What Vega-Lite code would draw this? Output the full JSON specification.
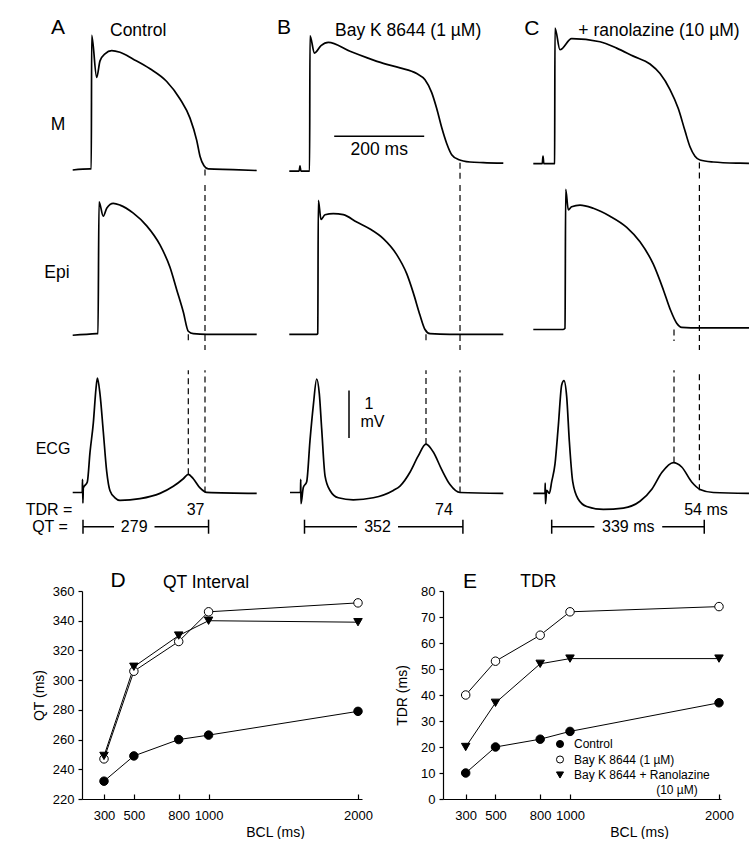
{
"$schema":"https://vega.github.io/schema/vega-lite/v6.json",
"background":"white",
"padding":0,
"spacing":30,
"config":{"view":{"stroke":null},"font":"Liberation Sans","text":{"color":"black"},
"axis":{"domainColor":"black","tickColor":"black","labelColor":"black","titleColor":"black","labelFontSize":13,"titleFontSize":14,"titleFontWeight":"normal","grid":false,"domainWidth":1.2,"tickWidth":1.2,"labelOverlap":false}},
"datasets":{
"tr":[
{"p":"A","s":"M","t":-22.9,"v":-85.4},{"p":"A","s":"M","t":15.6,"v":-84.4},{"p":"A","s":"M","t":18.4,"v":-84.4},{"p":"A","s":"M","t":19.3,"v":45.5},{"p":"A","s":"M","t":30.4,"v":4.7},{"p":"A","s":"M","t":37.8,"v":20.8},{"p":"A","s":"M","t":48.9,"v":27.6},{"p":"A","s":"M","t":63.8,"v":30.7},{"p":"A","s":"M","t":82.2,"v":29.1},{"p":"A","s":"M","t":111.8,"v":22.4},{"p":"A","s":"M","t":148.9,"v":13.1},{"p":"A","s":"M","t":186,"v":0.7},{"p":"A","s":"M","t":215.6,"v":-16.3},{"p":"A","s":"M","t":237.8,"v":-34.9},{"p":"A","s":"M","t":252.7,"v":-56.6},{"p":"A","s":"M","t":260,"v":-72},{"p":"A","s":"M","t":268.9,"v":-81.3},{"p":"A","s":"M","t":278.4,"v":-84.4},{"p":"A","s":"M","t":333.3,"v":-85},{"p":"A","s":"M","t":386,"v":-85.9},
{"p":"A","s":"Epi","t":-22.9,"v":-85.7},{"p":"A","s":"Epi","t":30.4,"v":-84.2},{"p":"A","s":"Epi","t":33.3,"v":-84.1},{"p":"A","s":"Epi","t":35.6,"v":43.6},{"p":"A","s":"Epi","t":45.1,"v":29.7},{"p":"A","s":"Epi","t":52.7,"v":37.4},{"p":"A","s":"Epi","t":67.3,"v":42.1},{"p":"A","s":"Epi","t":82.2,"v":40.5},{"p":"A","s":"Epi","t":111.8,"v":32.7},{"p":"A","s":"Epi","t":141.6,"v":20.4},{"p":"A","s":"Epi","t":171.1,"v":1.9},{"p":"A","s":"Epi","t":193.3,"v":-19.8},{"p":"A","s":"Epi","t":208.2,"v":-41.5},{"p":"A","s":"Epi","t":222.9,"v":-63.1},{"p":"A","s":"Epi","t":234,"v":-81.8},{"p":"A","s":"Epi","t":245.1,"v":-84.2},{"p":"A","s":"Epi","t":274.9,"v":-84.8},{"p":"A","s":"Epi","t":386,"v":-84.8},
{"p":"A","s":"ECG","t":-22.9,"v":0},{"p":"A","s":"ECG","t":-1.6,"v":0},{"p":"A","s":"ECG","t":-1.1,"v":0.278},{"p":"A","s":"ECG","t":-0.2,"v":-0.222},{"p":"A","s":"ECG","t":0.7,"v":0.093},{"p":"A","s":"ECG","t":9.6,"v":0.222},{"p":"A","s":"ECG","t":15.6,"v":0.85},{"p":"A","s":"ECG","t":22.9,"v":1.46},{"p":"A","s":"ECG","t":29,"v":2.2},{"p":"A","s":"ECG","t":32,"v":2.41},{"p":"A","s":"ECG","t":37.8,"v":2.07},{"p":"A","s":"ECG","t":45.1,"v":1.28},{"p":"A","s":"ECG","t":52.7,"v":0.44},{"p":"A","s":"ECG","t":60,"v":0.037},{"p":"A","s":"ECG","t":71.1,"v":-0.111},{"p":"A","s":"ECG","t":82.2,"v":-0.167},{"p":"A","s":"ECG","t":126.7,"v":-0.13},{"p":"A","s":"ECG","t":171.1,"v":-0.019},{"p":"A","s":"ECG","t":200.7,"v":0.13},{"p":"A","s":"ECG","t":222.9,"v":0.289},{"p":"A","s":"ECG","t":234,"v":0.383},{"p":"A","s":"ECG","t":245.1,"v":0.289},{"p":"A","s":"ECG","t":260,"v":0.096},{"p":"A","s":"ECG","t":274.9,"v":0.002},{"p":"A","s":"ECG","t":386,"v":-0.019},
{"p":"B","s":"M","t":-33.8,"v":-86.5},{"p":"B","s":"M","t":-12,"v":-86.5},{"p":"B","s":"M","t":-10,"v":-81.4},{"p":"B","s":"M","t":-8,"v":-86.5},{"p":"B","s":"M","t":8.4,"v":-86.5},{"p":"B","s":"M","t":11.3,"v":-86.5},{"p":"B","s":"M","t":12.2,"v":45},{"p":"B","s":"M","t":22.2,"v":28.4},{"p":"B","s":"M","t":36.7,"v":35.6},{"p":"B","s":"M","t":52.9,"v":38.8},{"p":"B","s":"M","t":101.1,"v":30.1},{"p":"B","s":"M","t":138.2,"v":23.9},{"p":"B","s":"M","t":175.1,"v":18.3},{"p":"B","s":"M","t":212.2,"v":14},{"p":"B","s":"M","t":249.3,"v":8.4},{"p":"B","s":"M","t":267.8,"v":2.3},{"p":"B","s":"M","t":282.7,"v":-10.1},{"p":"B","s":"M","t":293.8,"v":-25.6},{"p":"B","s":"M","t":304.9,"v":-44.1},{"p":"B","s":"M","t":316,"v":-59.6},{"p":"B","s":"M","t":327.1,"v":-70.5},{"p":"B","s":"M","t":341.8,"v":-75.1},{"p":"B","s":"M","t":367.8,"v":-77.6},{"p":"B","s":"M","t":397.3,"v":-78.25},{"p":"B","s":"M","t":441.8,"v":-78.8},
{"p":"B","s":"Epi","t":-33.8,"v":-84.8},{"p":"B","s":"Epi","t":27.1,"v":-84.8},{"p":"B","s":"Epi","t":29.5,"v":-84},{"p":"B","s":"Epi","t":30.7,"v":45.1},{"p":"B","s":"Epi","t":36.7,"v":26.6},{"p":"B","s":"Epi","t":45.6,"v":31.2},{"p":"B","s":"Epi","t":64,"v":32.2},{"p":"B","s":"Epi","t":86.2,"v":31.2},{"p":"B","s":"Epi","t":116,"v":24.1},{"p":"B","s":"Epi","t":145.6,"v":17.3},{"p":"B","s":"Epi","t":175.1,"v":8},{"p":"B","s":"Epi","t":204.9,"v":-7.5},{"p":"B","s":"Epi","t":227.1,"v":-26},{"p":"B","s":"Epi","t":241.8,"v":-44.6},{"p":"B","s":"Epi","t":256.7,"v":-66.3},{"p":"B","s":"Epi","t":267.8,"v":-80.1},{"p":"B","s":"Epi","t":278.9,"v":-84.2},{"p":"B","s":"Epi","t":323.3,"v":-84.8},{"p":"B","s":"Epi","t":441.8,"v":-84.8},
{"p":"B","s":"ECG","t":-32.2,"v":0},{"p":"B","s":"ECG","t":-8.9,"v":0},{"p":"B","s":"ECG","t":-8.4,"v":0.278},{"p":"B","s":"ECG","t":-7.8,"v":-0.235},{"p":"B","s":"ECG","t":-2.7,"v":0.106},{"p":"B","s":"ECG","t":4.9,"v":0.228},{"p":"B","s":"ECG","t":12.2,"v":1.093},{"p":"B","s":"ECG","t":19.6,"v":1.833},{"p":"B","s":"ECG","t":27.1,"v":2.389},{"p":"B","s":"ECG","t":32.9,"v":2.08},{"p":"B","s":"ECG","t":38.2,"v":1.339},{"p":"B","s":"ECG","t":45.6,"v":0.352},{"p":"B","s":"ECG","t":56.7,"v":0.043},{"p":"B","s":"ECG","t":75.1,"v":-0.111},{"p":"B","s":"ECG","t":108.4,"v":-0.154},{"p":"B","s":"ECG","t":152.9,"v":-0.111},{"p":"B","s":"ECG","t":197.3,"v":0.043},{"p":"B","s":"ECG","t":212.2,"v":0.135},{"p":"B","s":"ECG","t":234.4,"v":0.426},{"p":"B","s":"ECG","t":252.2,"v":0.759},{"p":"B","s":"ECG","t":270,"v":1.019},{"p":"B","s":"ECG","t":286.2,"v":0.852},{"p":"B","s":"ECG","t":304.9,"v":0.481},{"p":"B","s":"ECG","t":323.3,"v":0.167},{"p":"B","s":"ECG","t":345.6,"v":0},{"p":"B","s":"ECG","t":441.8,"v":-0.019},
{"p":"C","s":"M","t":-40.9,"v":-79.2},{"p":"C","s":"M","t":-21,"v":-79.2},{"p":"C","s":"M","t":-19.3,"v":-72},{"p":"C","s":"M","t":-17.5,"v":-79.2},{"p":"C","s":"M","t":5.1,"v":-79.2},{"p":"C","s":"M","t":6.5,"v":-79},{"p":"C","s":"M","t":7.3,"v":52.7},{"p":"C","s":"M","t":18.4,"v":31.6},{"p":"C","s":"M","t":44.4,"v":42.4},{"p":"C","s":"M","t":107.3,"v":39.4},{"p":"C","s":"M","t":144.4,"v":33.2},{"p":"C","s":"M","t":181.3,"v":25.4},{"p":"C","s":"M","t":218.4,"v":17.7},{"p":"C","s":"M","t":240.7,"v":8.4},{"p":"C","s":"M","t":262.9,"v":-7.1},{"p":"C","s":"M","t":281.3,"v":-25.6},{"p":"C","s":"M","t":296.2,"v":-47.3},{"p":"C","s":"M","t":307.3,"v":-62.8},{"p":"C","s":"M","t":318.4,"v":-72},{"p":"C","s":"M","t":329.6,"v":-75.7},{"p":"C","s":"M","t":359.1,"v":-77.6},{"p":"C","s":"M","t":418.4,"v":-78.8},{"p":"C","s":"M","t":438.4,"v":-79},
{"p":"C","s":"Epi","t":-40.9,"v":-80.1},{"p":"C","s":"Epi","t":25.8,"v":-80.1},{"p":"C","s":"Epi","t":29.6,"v":-79},{"p":"C","s":"Epi","t":31.1,"v":55.9},{"p":"C","s":"Epi","t":36.9,"v":35.9},{"p":"C","s":"Epi","t":44.4,"v":38.9},{"p":"C","s":"Epi","t":62.9,"v":40.5},{"p":"C","s":"Epi","t":92.4,"v":37.4},{"p":"C","s":"Epi","t":129.6,"v":29.7},{"p":"C","s":"Epi","t":166.7,"v":18.9},{"p":"C","s":"Epi","t":196.2,"v":4.9},{"p":"C","s":"Epi","t":225.8,"v":-16.8},{"p":"C","s":"Epi","t":248,"v":-41.5},{"p":"C","s":"Epi","t":262.9,"v":-60.1},{"p":"C","s":"Epi","t":277.8,"v":-74},{"p":"C","s":"Epi","t":288.9,"v":-78},{"p":"C","s":"Epi","t":329.6,"v":-78.6},{"p":"C","s":"Epi","t":438.4,"v":-78.6},
{"p":"C","s":"ECG","t":-40.9,"v":-0.019},{"p":"C","s":"ECG","t":-14.9,"v":-0.019},{"p":"C","s":"ECG","t":-14.4,"v":0.198},{"p":"C","s":"ECG","t":-13.8,"v":-0.235},{"p":"C","s":"ECG","t":-11.1,"v":0.043},{"p":"C","s":"ECG","t":-5.3,"v":-0.019},{"p":"C","s":"ECG","t":0,"v":0.228},{"p":"C","s":"ECG","t":7.3,"v":0.598},{"p":"C","s":"ECG","t":14.7,"v":1.402},{"p":"C","s":"ECG","t":22.2,"v":2.265},{"p":"C","s":"ECG","t":27.3,"v":2.357},{"p":"C","s":"ECG","t":33.3,"v":2.019},{"p":"C","s":"ECG","t":39.1,"v":1.093},{"p":"C","s":"ECG","t":46.7,"v":0.228},{"p":"C","s":"ECG","t":59.1,"v":-0.143},{"p":"C","s":"ECG","t":77.8,"v":-0.296},{"p":"C","s":"ECG","t":114.7,"v":-0.357},{"p":"C","s":"ECG","t":159.1,"v":-0.328},{"p":"C","s":"ECG","t":196.2,"v":-0.185},{"p":"C","s":"ECG","t":222.9,"v":0.074},{"p":"C","s":"ECG","t":245.1,"v":0.426},{"p":"C","s":"ECG","t":270.2,"v":0.63},{"p":"C","s":"ECG","t":288.9,"v":0.537},{"p":"C","s":"ECG","t":311.1,"v":0.222},{"p":"C","s":"ECG","t":329.6,"v":0.065},{"p":"C","s":"ECG","t":359.1,"v":0},{"p":"C","s":"ECG","t":438.4,"v":-0.019}
],
"dash":[
{"p":"A","e":"M","t":271.1,"vM":-85,"vECG":0},
{"p":"A","e":"Epi","t":234,"vEpi":-84.8,"vECG":0.383},
{"p":"B","e":"M","t":345.6,"vM":-78.3,"vECG":0},
{"p":"B","e":"Epi","t":270,"vEpi":-84.8,"vECG":1.019},
{"p":"C","e":"M","t":328.2,"vM":-78,"vECG":0.05},
{"p":"C","e":"Epi","t":271.8,"vEpi":-80,"vECG":0.63}
],
"txt":[
{"p":"A","s":"M","k":"letter","t":-55.6,"v":52.7,"label":"A"},
{"p":"A","s":"M","k":"title","t":60,"v":50,"label":"Control"},
{"p":"A","s":"M","k":"lab","t":-55.6,"v":-41.8,"label":"M"},
{"p":"B","s":"M","k":"letter","t":-45.6,"v":53,"label":"B"},
{"p":"B","s":"M","k":"title","t":67.8,"v":50,"label":"Bay K 8644 (1 µM)"},
{"p":"B","s":"M","k":"lab","t":166,"v":-66.1,"label":"200 ms"},
{"p":"C","s":"M","k":"letter","t":-44.4,"v":51.5,"label":"C"},
{"p":"C","s":"M","k":"title","t":59.1,"v":50,"label":"+ ranolazine (10 µM)"},
{"p":"A","s":"Epi","k":"lab","t":-57.8,"v":-25.6,"label":"Epi"},
{"p":"A","s":"ECG","k":"lab","t":-66.7,"v":0.907,"label":"ECG"},
{"p":"A","s":"ECG","k":"lab","t":-75.6,"v":-0.37,"label":"TDR ="},
{"p":"A","s":"ECG","k":"lab","t":-73.3,"v":-0.72,"label":"QT ="},
{"p":"A","s":"ECG","k":"lab","t":250.2,"v":-0.37,"label":"37"},
{"p":"A","s":"ECG","k":"lab","t":113.8,"v":-0.72,"label":"279"},
{"p":"B","s":"ECG","k":"lab","t":310,"v":-0.37,"label":"74"},
{"p":"B","s":"ECG","k":"lab","t":162.2,"v":-0.72,"label":"352"},
{"p":"B","s":"ECG","k":"lab","t":143.3,"v":1.865,"label":"1"},
{"p":"B","s":"ECG","k":"lab","t":151,"v":1.494,"label":"mV"},
{"p":"C","s":"ECG","k":"lab","t":342.9,"v":-0.37,"label":"54 ms"},
{"p":"C","s":"ECG","k":"lab","t":170.2,"v":-0.72,"label":"339 ms"}
],
"seg":[
{"p":"B","s":"M","t":66,"t2":266,"v":-52.6,"v2":-52.6},
{"p":"A","s":"ECG","t":0,"t2":69,"v":-0.72,"v2":-0.72},
{"p":"A","s":"ECG","t":158.9,"t2":279,"v":-0.72,"v2":-0.72},
{"p":"A","s":"ECG","t":0,"t2":0,"v":-0.572,"v2":-0.868},
{"p":"A","s":"ECG","t":279,"t2":279,"v":-0.572,"v2":-0.868},
{"p":"B","s":"ECG","t":0,"t2":116.7,"v":-0.72,"v2":-0.72},
{"p":"B","s":"ECG","t":207.8,"t2":352,"v":-0.72,"v2":-0.72},
{"p":"B","s":"ECG","t":0,"t2":0,"v":-0.572,"v2":-0.868},
{"p":"B","s":"ECG","t":352,"t2":352,"v":-0.572,"v2":-0.868},
{"p":"B","s":"ECG","t":98.9,"t2":98.9,"v":1.15,"v2":2.15},
{"p":"C","s":"ECG","t":0,"t2":94.9,"v":-0.72,"v2":-0.72},
{"p":"C","s":"ECG","t":245.6,"t2":339,"v":-0.72,"v2":-0.72},
{"p":"C","s":"ECG","t":0,"t2":0,"v":-0.572,"v2":-0.868},
{"p":"C","s":"ECG","t":339,"t2":339,"v":-0.572,"v2":-0.868}
],
"bcl":[
{"panel":"D","series":"Control","bcl":300,"value":232},{"panel":"D","series":"Control","bcl":500,"value":249},{"panel":"D","series":"Control","bcl":800,"value":260},{"panel":"D","series":"Control","bcl":1000,"value":263},{"panel":"D","series":"Control","bcl":2000,"value":279},
{"panel":"D","series":"Bay K 8644 (1 µM)","bcl":300,"value":247},{"panel":"D","series":"Bay K 8644 (1 µM)","bcl":500,"value":306},{"panel":"D","series":"Bay K 8644 (1 µM)","bcl":800,"value":326},{"panel":"D","series":"Bay K 8644 (1 µM)","bcl":1000,"value":346},{"panel":"D","series":"Bay K 8644 (1 µM)","bcl":2000,"value":352},
{"panel":"D","series":"Bay K 8644 + Ranolazine","bcl":300,"value":249},{"panel":"D","series":"Bay K 8644 + Ranolazine","bcl":500,"value":309},{"panel":"D","series":"Bay K 8644 + Ranolazine","bcl":800,"value":330},{"panel":"D","series":"Bay K 8644 + Ranolazine","bcl":1000,"value":340},{"panel":"D","series":"Bay K 8644 + Ranolazine","bcl":2000,"value":339},
{"panel":"E","series":"Control","bcl":300,"value":10},{"panel":"E","series":"Control","bcl":500,"value":20},{"panel":"E","series":"Control","bcl":800,"value":23},{"panel":"E","series":"Control","bcl":1000,"value":26},{"panel":"E","series":"Control","bcl":2000,"value":37},
{"panel":"E","series":"Bay K 8644 (1 µM)","bcl":300,"value":40},{"panel":"E","series":"Bay K 8644 (1 µM)","bcl":500,"value":53},{"panel":"E","series":"Bay K 8644 (1 µM)","bcl":800,"value":63},{"panel":"E","series":"Bay K 8644 (1 µM)","bcl":1000,"value":72},{"panel":"E","series":"Bay K 8644 (1 µM)","bcl":2000,"value":74},
{"panel":"E","series":"Bay K 8644 + Ranolazine","bcl":300,"value":20},{"panel":"E","series":"Bay K 8644 + Ranolazine","bcl":500,"value":37},{"panel":"E","series":"Bay K 8644 + Ranolazine","bcl":800,"value":52},{"panel":"E","series":"Bay K 8644 + Ranolazine","bcl":1000,"value":54},{"panel":"E","series":"Bay K 8644 + Ranolazine","bcl":2000,"value":54}
],
"ptxt":[
{"panel":"D","k":"letter","bcl":393.8,"value":366.4,"label":"D"},
{"panel":"D","k":"title","bcl":982.8,"value":365.6,"label":"QT Interval"},
{"panel":"E","k":"letter","bcl":328.9,"value":83.6,"label":"E"},
{"panel":"E","k":"title","bcl":787.3,"value":83.6,"label":"TDR"},
{"panel":"E","k":"note","bcl":1718,"value":3.46,"label":"(10 µM)"}
]
},
"vconcat":[
{"concat":[
{"width":265,"height":185,
"encoding":{"x":{"field":"t","type":"quantitative","scale":{"domain":[-184.44,404.44]},"axis":null}},
"layer":[
{"data":{"name":"tr"},"transform":[{"filter":"datum.p=='A'&&datum.s=='M'"}],"mark":{"type":"line","color":"black","strokeWidth":1.7,"interpolate":"monotone"},"encoding":{"y":{"field":"v","type":"quantitative","scale":{"domain":[-94,72.5]},"axis":null}}},
{"data":{"name":"dash"},"transform":[{"filter":"datum.p=='A'&&datum.e=='M'"}],"mark":{"type":"rule","color":"black","strokeWidth":1.2,"strokeDash":[6,4]},"encoding":{"y":{"field":"vM","type":"quantitative","axis":null},"y2":{"datum":-94}}},
{"data":{"name":"txt"},"transform":[{"filter":"datum.p=='A'&&datum.s=='M'&&datum.k=='letter'"}],"mark":{"type":"text","fontSize":21,"align":"center","baseline":"middle"},"encoding":{"y":{"field":"v","type":"quantitative","axis":null},"text":{"field":"label"}}},
{"data":{"name":"txt"},"transform":[{"filter":"datum.p=='A'&&datum.s=='M'&&datum.k=='title'"}],"mark":{"type":"text","fontSize":17.5,"align":"left","baseline":"middle"},"encoding":{"y":{"field":"v","type":"quantitative","axis":null},"text":{"field":"label"}}},
{"data":{"name":"txt"},"transform":[{"filter":"datum.p=='A'&&datum.s=='M'&&datum.k=='lab'"}],"mark":{"type":"text","fontSize":17.5,"align":"center","baseline":"middle"},"encoding":{"y":{"field":"v","type":"quantitative","axis":null},"text":{"field":"label"}}}
]},
{"width":247,"height":185,
"encoding":{"x":{"field":"t","type":"quantitative","scale":{"domain":[-87.78,461.11]},"axis":null}},
"layer":[
{"data":{"name":"tr"},"transform":[{"filter":"datum.p=='B'&&datum.s=='M'"}],"mark":{"type":"line","color":"black","strokeWidth":1.7,"interpolate":"monotone"},"encoding":{"y":{"field":"v","type":"quantitative","scale":{"domain":[-94,72.5]},"axis":null}}},
{"data":{"name":"dash"},"transform":[{"filter":"datum.p=='B'&&datum.e=='M'"}],"mark":{"type":"rule","color":"black","strokeWidth":1.2,"strokeDash":[6,4]},"encoding":{"y":{"field":"vM","type":"quantitative","axis":null},"y2":{"datum":-94}}},
{"data":{"name":"seg"},"transform":[{"filter":"datum.p=='B'&&datum.s=='M'"}],"mark":{"type":"rule","color":"black","strokeWidth":1.5},"encoding":{"x2":{"field":"t2"},"y":{"field":"v","type":"quantitative","axis":null},"y2":{"field":"v2"}}},
{"data":{"name":"txt"},"transform":[{"filter":"datum.p=='B'&&datum.s=='M'&&datum.k=='letter'"}],"mark":{"type":"text","fontSize":21,"align":"center","baseline":"middle"},"encoding":{"y":{"field":"v","type":"quantitative","axis":null},"text":{"field":"label"}}},
{"data":{"name":"txt"},"transform":[{"filter":"datum.p=='B'&&datum.s=='M'&&datum.k=='title'"}],"mark":{"type":"text","fontSize":17.5,"align":"left","baseline":"middle"},"encoding":{"y":{"field":"v","type":"quantitative","axis":null},"text":{"field":"label"}}},
{"data":{"name":"txt"},"transform":[{"filter":"datum.p=='B'&&datum.s=='M'&&datum.k=='lab'"}],"mark":{"type":"text","fontSize":17.5,"align":"center","baseline":"middle"},"encoding":{"y":{"field":"v","type":"quantitative","axis":null},"text":{"field":"label"}}}
]},
{"width":238,"height":185,
"encoding":{"x":{"field":"t","type":"quantitative","scale":{"domain":[-88.22,440.67]},"axis":null}},
"layer":[
{"data":{"name":"tr"},"transform":[{"filter":"datum.p=='C'&&datum.s=='M'"}],"mark":{"type":"line","color":"black","strokeWidth":1.7,"interpolate":"monotone"},"encoding":{"y":{"field":"v","type":"quantitative","scale":{"domain":[-94,72.5]},"axis":null}}},
{"data":{"name":"dash"},"transform":[{"filter":"datum.p=='C'&&datum.e=='M'"}],"mark":{"type":"rule","color":"black","strokeWidth":1.2,"strokeDash":[6,4]},"encoding":{"y":{"field":"vM","type":"quantitative","axis":null},"y2":{"datum":-94}}},
{"data":{"name":"txt"},"transform":[{"filter":"datum.p=='C'&&datum.s=='M'&&datum.k=='letter'"}],"mark":{"type":"text","fontSize":21,"align":"center","baseline":"middle"},"encoding":{"y":{"field":"v","type":"quantitative","axis":null},"text":{"field":"label"}}},
{"data":{"name":"txt"},"transform":[{"filter":"datum.p=='C'&&datum.s=='M'&&datum.k=='title'"}],"mark":{"type":"text","fontSize":17.5,"align":"left","baseline":"middle"},"encoding":{"y":{"field":"v","type":"quantitative","axis":null},"text":{"field":"label"}}}
]},
{"width":265,"height":165,
"encoding":{"x":{"field":"t","type":"quantitative","scale":{"domain":[-184.44,404.44]},"axis":null}},
"layer":[
{"data":{"name":"tr"},"transform":[{"filter":"datum.p=='A'&&datum.s=='Epi'"}],"mark":{"type":"line","color":"black","strokeWidth":1.7,"interpolate":"monotone"},"encoding":{"y":{"field":"v","type":"quantitative","scale":{"domain":[-91.3,57.2]},"axis":null}}},
{"data":{"name":"dash"},"transform":[{"filter":"datum.p=='A'&&datum.e=='M'"}],"mark":{"type":"rule","color":"black","strokeWidth":1.2,"strokeDash":[6,4]}},
{"data":{"name":"dash"},"transform":[{"filter":"datum.p=='A'&&datum.e=='Epi'"}],"mark":{"type":"rule","color":"black","strokeWidth":1.2,"strokeDash":[6,4]},"encoding":{"y":{"field":"vEpi","type":"quantitative","axis":null},"y2":{"datum":-91.3}}},
{"data":{"name":"txt"},"transform":[{"filter":"datum.p=='A'&&datum.s=='Epi'"}],"mark":{"type":"text","fontSize":17.5,"align":"center","baseline":"middle"},"encoding":{"y":{"field":"v","type":"quantitative","axis":null},"text":{"field":"label"}}}
]},
{"width":247,"height":165,
"encoding":{"x":{"field":"t","type":"quantitative","scale":{"domain":[-87.78,461.11]},"axis":null}},
"layer":[
{"data":{"name":"tr"},"transform":[{"filter":"datum.p=='B'&&datum.s=='Epi'"}],"mark":{"type":"line","color":"black","strokeWidth":1.7,"interpolate":"monotone"},"encoding":{"y":{"field":"v","type":"quantitative","scale":{"domain":[-91.3,57.2]},"axis":null}}},
{"data":{"name":"dash"},"transform":[{"filter":"datum.p=='B'&&datum.e=='M'"}],"mark":{"type":"rule","color":"black","strokeWidth":1.2,"strokeDash":[6,4]}},
{"data":{"name":"dash"},"transform":[{"filter":"datum.p=='B'&&datum.e=='Epi'"}],"mark":{"type":"rule","color":"black","strokeWidth":1.2,"strokeDash":[6,4]},"encoding":{"y":{"field":"vEpi","type":"quantitative","axis":null},"y2":{"datum":-91.3}}}
]},
{"width":238,"height":165,
"encoding":{"x":{"field":"t","type":"quantitative","scale":{"domain":[-88.22,440.67]},"axis":null}},
"layer":[
{"data":{"name":"tr"},"transform":[{"filter":"datum.p=='C'&&datum.s=='Epi'"}],"mark":{"type":"line","color":"black","strokeWidth":1.7,"interpolate":"monotone"},"encoding":{"y":{"field":"v","type":"quantitative","scale":{"domain":[-91.3,57.2]},"axis":null}}},
{"data":{"name":"dash"},"transform":[{"filter":"datum.p=='C'&&datum.e=='M'"}],"mark":{"type":"rule","color":"black","strokeWidth":1.2,"strokeDash":[6,4]}},
{"data":{"name":"dash"},"transform":[{"filter":"datum.p=='C'&&datum.e=='Epi'"}],"mark":{"type":"rule","color":"black","strokeWidth":1.2,"strokeDash":[6,4]},"encoding":{"y":{"field":"vEpi","type":"quantitative","axis":null},"y2":{"datum":-91.3}}}
]},
{"width":265,"height":190,
"encoding":{"x":{"field":"t","type":"quantitative","scale":{"domain":[-184.44,404.44]},"axis":null}},
"layer":[
{"data":{"name":"tr"},"transform":[{"filter":"datum.p=='A'&&datum.s=='ECG'"}],"mark":{"type":"line","color":"black","strokeWidth":1.7,"interpolate":"monotone"},"encoding":{"y":{"field":"v","type":"quantitative","scale":{"domain":[-0.944,2.574]},"axis":null}}},
{"data":{"name":"dash"},"transform":[{"filter":"datum.p=='A'"}],"mark":{"type":"rule","color":"black","strokeWidth":1.2,"strokeDash":[6,4]},"encoding":{"y":{"field":"vECG","type":"quantitative","axis":null},"y2":{"datum":2.574}}},
{"data":{"name":"seg"},"transform":[{"filter":"datum.p=='A'&&datum.s=='ECG'"}],"mark":{"type":"rule","color":"black","strokeWidth":1.5},"encoding":{"x2":{"field":"t2"},"y":{"field":"v","type":"quantitative","axis":null},"y2":{"field":"v2"}}},
{"data":{"name":"txt"},"transform":[{"filter":"datum.p=='A'&&datum.s=='ECG'"}],"mark":{"type":"text","fontSize":16,"align":"center","baseline":"middle"},"encoding":{"y":{"field":"v","type":"quantitative","axis":null},"text":{"field":"label"}}}
]},
{"width":247,"height":190,
"encoding":{"x":{"field":"t","type":"quantitative","scale":{"domain":[-87.78,461.11]},"axis":null}},
"layer":[
{"data":{"name":"tr"},"transform":[{"filter":"datum.p=='B'&&datum.s=='ECG'"}],"mark":{"type":"line","color":"black","strokeWidth":1.7,"interpolate":"monotone"},"encoding":{"y":{"field":"v","type":"quantitative","scale":{"domain":[-0.944,2.574]},"axis":null}}},
{"data":{"name":"dash"},"transform":[{"filter":"datum.p=='B'"}],"mark":{"type":"rule","color":"black","strokeWidth":1.2,"strokeDash":[6,4]},"encoding":{"y":{"field":"vECG","type":"quantitative","axis":null},"y2":{"datum":2.574}}},
{"data":{"name":"seg"},"transform":[{"filter":"datum.p=='B'&&datum.s=='ECG'"}],"mark":{"type":"rule","color":"black","strokeWidth":1.5},"encoding":{"x2":{"field":"t2"},"y":{"field":"v","type":"quantitative","axis":null},"y2":{"field":"v2"}}},
{"data":{"name":"txt"},"transform":[{"filter":"datum.p=='B'&&datum.s=='ECG'"}],"mark":{"type":"text","fontSize":16,"align":"center","baseline":"middle"},"encoding":{"y":{"field":"v","type":"quantitative","axis":null},"text":{"field":"label"}}}
]},
{"width":238,"height":190,
"encoding":{"x":{"field":"t","type":"quantitative","scale":{"domain":[-88.22,440.67]},"axis":null}},
"layer":[
{"data":{"name":"tr"},"transform":[{"filter":"datum.p=='C'&&datum.s=='ECG'"}],"mark":{"type":"line","color":"black","strokeWidth":1.7,"interpolate":"monotone"},"encoding":{"y":{"field":"v","type":"quantitative","scale":{"domain":[-0.944,2.574]},"axis":null}}},
{"data":{"name":"dash"},"transform":[{"filter":"datum.p=='C'"}],"mark":{"type":"rule","color":"black","strokeWidth":1.2,"strokeDash":[6,4]},"encoding":{"y":{"field":"vECG","type":"quantitative","axis":null},"y2":{"datum":2.574}}},
{"data":{"name":"seg"},"transform":[{"filter":"datum.p=='C'&&datum.s=='ECG'"}],"mark":{"type":"rule","color":"black","strokeWidth":1.5},"encoding":{"x2":{"field":"t2"},"y":{"field":"v","type":"quantitative","axis":null},"y2":{"field":"v2"}}},
{"data":{"name":"txt"},"transform":[{"filter":"datum.p=='C'&&datum.s=='ECG'"}],"mark":{"type":"text","fontSize":16,"align":"center","baseline":"middle"},"encoding":{"y":{"field":"v","type":"quantitative","axis":null},"text":{"field":"label"}}}
]}
],"columns":3,"spacing":0,"bounds":"flush","align":"each"},
{"hconcat":[
{"width":1,"height":1,"data":{"values":[]},"mark":"point"},
{"width":280,"height":208,
"encoding":{
"x":{"field":"bcl","type":"quantitative","scale":{"domain":[152.8,2026.8]},"axis":{"title":"BCL (ms)","values":[300,500,800,1000,2000],"format":"d","tickSize":-5,"labelPadding":15,"titlePadding":3,"titleX":193,"labelFlush":false}},
"y":{"field":"value","type":"quantitative","scale":{"domain":[220,360]},"axis":{"title":"QT (ms)","values":[220,240,260,280,300,320,340,360],"tickSize":4,"labelPadding":4,"titlePadding":6}}},
"layer":[
{"data":{"name":"bcl"},"transform":[{"filter":"datum.panel=='D'"}],"mark":{"type":"line","color":"black","strokeWidth":1},"encoding":{"detail":{"field":"series"}}},
{"data":{"name":"bcl"},"transform":[{"filter":"datum.panel=='D'"}],"mark":{"type":"point","stroke":"black","strokeWidth":1,"opacity":1,"size":72},
"encoding":{"fill":{"field":"series","type":"nominal","scale":{"domain":["Control","Bay K 8644 (1 µM)","Bay K 8644 + Ranolazine"],"range":["black","white","black"]},"legend":null},
"shape":{"field":"series","type":"nominal","scale":{"domain":["Control","Bay K 8644 (1 µM)","Bay K 8644 + Ranolazine"],"range":["circle","circle","triangle-down"]},"legend":null}}},
{"data":{"name":"ptxt"},"transform":[{"filter":"datum.panel=='D'&&datum.k=='letter'"}],"mark":{"type":"text","fontSize":21,"align":"center","baseline":"middle"},"encoding":{"text":{"field":"label"}}},
{"data":{"name":"ptxt"},"transform":[{"filter":"datum.panel=='D'&&datum.k=='title'"}],"mark":{"type":"text","fontSize":17.5,"align":"center","baseline":"middle"},"encoding":{"text":{"field":"label"}}}
]},
{"width":278,"height":208,
"encoding":{
"x":{"field":"bcl","type":"quantitative","scale":{"domain":[147.7,2013.4]},"axis":{"title":"BCL (ms)","values":[300,500,800,1000,2000],"format":"d","tickSize":-5,"labelPadding":15,"titlePadding":3,"titleX":196,"labelFlush":false}},
"y":{"field":"value","type":"quantitative","scale":{"domain":[0,80]},"axis":{"title":"TDR (ms)","values":[0,10,20,30,40,50,60,70,80],"tickSize":4,"labelPadding":4,"titlePadding":11}}},
"layer":[
{"data":{"name":"bcl"},"transform":[{"filter":"datum.panel=='E'"}],"mark":{"type":"line","color":"black","strokeWidth":1},"encoding":{"detail":{"field":"series"}}},
{"data":{"name":"bcl"},"transform":[{"filter":"datum.panel=='E'"}],"mark":{"type":"point","stroke":"black","strokeWidth":1,"opacity":1,"size":72},
"encoding":{"fill":{"field":"series","type":"nominal","scale":{"domain":["Control","Bay K 8644 (1 µM)","Bay K 8644 + Ranolazine"],"range":["black","white","black"]},"legend":{"orient":"none","legendX":111,"legendY":147,"title":null,"padding":0,"symbolSize":50,"labelFontSize":12,"rowPadding":3.5,"labelOffset":8,"symbolStrokeColor":"black","symbolStrokeWidth":1,"symbolOpacity":1,"labelColor":"black","encode":{"symbols":{"update":{"stroke":{"value":"black"},"strokeWidth":{"value":1},"opacity":{"value":1},"strokeOpacity":{"value":1}}}}}},
"shape":{"field":"series","type":"nominal","scale":{"domain":["Control","Bay K 8644 (1 µM)","Bay K 8644 + Ranolazine"],"range":["circle","circle","triangle-down"]},"legend":{"orient":"none","legendX":111,"legendY":147,"title":null,"padding":0,"symbolSize":50,"labelFontSize":12,"rowPadding":3.5,"labelOffset":8,"symbolStrokeColor":"black","symbolStrokeWidth":1,"symbolOpacity":1,"labelColor":"black","encode":{"symbols":{"update":{"stroke":{"value":"black"},"strokeWidth":{"value":1},"opacity":{"value":1},"strokeOpacity":{"value":1}}}}}}}},
{"data":{"name":"ptxt"},"transform":[{"filter":"datum.panel=='E'&&datum.k=='letter'"}],"mark":{"type":"text","fontSize":21,"align":"center","baseline":"middle"},"encoding":{"text":{"field":"label"}}},
{"data":{"name":"ptxt"},"transform":[{"filter":"datum.panel=='E'&&datum.k=='title'"}],"mark":{"type":"text","fontSize":17.5,"align":"center","baseline":"middle"},"encoding":{"text":{"field":"label"}}},
{"data":{"name":"ptxt"},"transform":[{"filter":"datum.panel=='E'&&datum.k=='note'"}],"mark":{"type":"text","fontSize":12,"align":"center","baseline":"middle"},"encoding":{"text":{"field":"label"}}}
]}
],"spacing":81,"bounds":"flush",
"resolve":{"scale":{"fill":"independent","shape":"independent"},"legend":{"fill":"independent","shape":"independent"}}}
]
}
